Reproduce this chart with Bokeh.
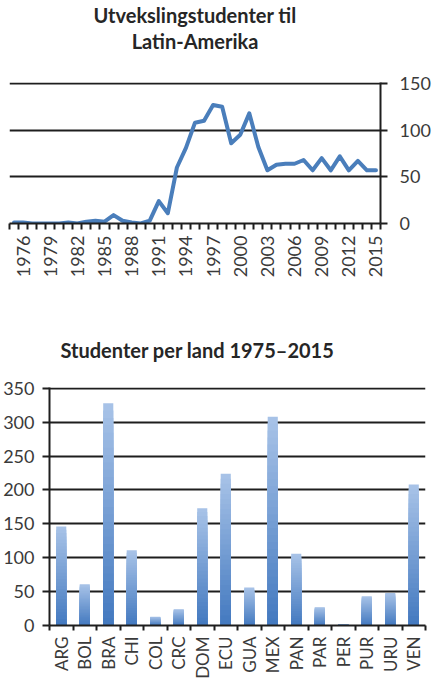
import numpy as np
from bokeh.plotting import figure
from bokeh.models import Range1d, FixedTicker, Title
from bokeh.layouts import column
from bokeh.embed import file_html
from bokeh.resources import INLINE

# ---- data: line chart ----
years = list(range(1975, 2016))
students = [1, 1, 0, 0, 0, 0, 1, 0, 2, 3, 2, 9, 3, 1, 0, 3, 24, 11, 60, 81,
            108, 110, 127, 125, 86, 95, 118, 82, 57, 63, 64, 64, 68, 57, 70, 57,
            72, 57, 67, 57, 57]
year_labels = list(range(1976, 2016, 3))
line_yticks = [0, 50, 100, 150]
title_top = ["Utvekslingstudenter til", "Latin-Amerika"]

# ---- data: bar chart ----
countries = ["ARG", "BOL", "BRA", "CHI", "COL", "CRC", "DOM", "ECU", "GUA",
             "MEX", "PAN", "PAR", "PER", "PUR", "URU", "VEN"]
per_country = [146, 61, 328, 111, 13, 24, 173, 224, 56, 308, 106, 27, 2, 43, 48, 208]
bar_yticks = [0, 50, 100, 150, 200, 250, 300, 350]
title_bottom = "Studenter per land 1975\u20132015"

TICK_FONT = "Lato"
TITLE_FONT = "Lato"
LABEL_COLOR = "#3a3a3a"
AXIS_COLOR = "#1e1e1e"
LINE_COLOR = "#4a7ebb"
TITLE_COLOR = "#262626"


def style_title(t, **kw):
    t.text_font = TITLE_FONT
    t.text_font_style = "bold"
    t.text_font_size = "20px"
    t.text_color = TITLE_COLOR
    for k, v in kw.items():
        setattr(t, k, v)
    return t


# ================= top chart =================
p1 = figure(width=433, height=300,
            x_range=Range1d(years[0] - 0.5, years[-1] + 0.5),
            y_range=Range1d(line_yticks[0], line_yticks[-1] * 1.007),
            y_axis_location="right",
            output_backend="svg", toolbar_location=None,
            min_border_left=9, min_border_right=53,
            min_border_top=0, min_border_bottom=77,
            title=title_top[0])
p1.frame_align = False
style_title(p1.title, align="center", standoff=0)
# spacer between the title block and the plot frame (added first = nearest the frame)
p1.add_layout(Title(text=" ", text_font_size="1px", standoff=27), "above")
p1.add_layout(style_title(Title(text=title_top[1]), align="center", standoff=0), "above")
p1.outline_line_color = None
p1.background_fill_color = None
p1.border_fill_color = None

p1.line(years, students, line_width=4, line_color=LINE_COLOR,
        line_join="round", line_cap="round")

p1.xgrid.visible = False
p1.ygrid.ticker = FixedTicker(ticks=line_yticks)
p1.ygrid.grid_line_color = AXIS_COLOR
p1.ygrid.grid_line_width = 2

ya = p1.yaxis[0]
ya.ticker = FixedTicker(ticks=line_yticks)
ya.axis_line_color = AXIS_COLOR
ya.axis_line_width = 2
ya.major_tick_line_color = AXIS_COLOR
ya.major_tick_line_width = 2
ya.major_tick_in = 0
ya.major_tick_out = 7
ya.minor_tick_line_color = None
ya.major_label_text_font = TICK_FONT
ya.major_label_text_font_size = "18px"
ya.major_label_text_color = LABEL_COLOR
ya.major_label_standoff = 12

xa = p1.xaxis[0]
xa.ticker = FixedTicker(ticks=year_labels,
                        minor_ticks=[y - 0.5 for y in years] + [years[-1] + 0.5])
xa.axis_line_color = AXIS_COLOR
xa.axis_line_width = 2
xa.major_tick_line_color = None
xa.minor_tick_line_color = AXIS_COLOR
xa.minor_tick_line_width = 2
xa.minor_tick_in = 0
xa.minor_tick_out = 6
xa.major_label_orientation = np.pi / 2
xa.major_label_text_font = TICK_FONT
xa.major_label_text_font_size = "18px"
xa.major_label_text_color = LABEL_COLOR
xa.major_label_standoff = 6

# ================= bottom chart =================
positions = list(range(1, len(countries) + 1))

p2 = figure(width=433, height=381,
            x_range=Range1d(0.5, len(countries) + 0.5),
            y_range=Range1d(bar_yticks[0], bar_yticks[-1] * 1.003),
            output_backend="svg", toolbar_location=None,
            min_border_left=49, min_border_right=8,
            min_border_top=87, min_border_bottom=55,
            title=title_bottom)
p2.frame_align = False
style_title(p2.title, align="left", offset=11, standoff=52)
p2.outline_line_color = None
p2.background_fill_color = None
p2.border_fill_color = None

# gradient bars: light at top, darker toward the base
light = np.array([0xA7, 0xC2, 0xE7], dtype=float)
dark = np.array([0x44, 0x7A, 0xC0], dtype=float)
N = 30
vals = np.array(per_country, dtype=float)
for k in range(N):
    frac = (N - k) / N
    t = k / (N - 1)
    c = light + (dark - light) * t
    col = "#%02x%02x%02x" % tuple(int(round(v)) for v in c)
    p2.vbar(x=positions, top=vals * frac, bottom=0, width=0.43,
            fill_color=col, line_color=None)

p2.xgrid.visible = False
p2.ygrid.ticker = FixedTicker(ticks=bar_yticks)
p2.ygrid.grid_line_color = AXIS_COLOR
p2.ygrid.grid_line_width = 2

la = p2.yaxis[0]
la.ticker = FixedTicker(ticks=bar_yticks)
la.axis_line_color = AXIS_COLOR
la.axis_line_width = 2
la.major_tick_line_color = AXIS_COLOR
la.major_tick_line_width = 2
la.major_tick_in = 0
la.major_tick_out = 7
la.minor_tick_line_color = None
la.major_label_text_font = TICK_FONT
la.major_label_text_font_size = "18px"
la.major_label_text_color = LABEL_COLOR
la.major_label_standoff = 8

ba = p2.xaxis[0]
ba.ticker = FixedTicker(ticks=positions,
                        minor_ticks=[x - 0.5 for x in positions] + [positions[-1] + 0.5])
ba.major_label_overrides = {x: c for x, c in zip(positions, countries)}
ba.axis_line_color = AXIS_COLOR
ba.axis_line_width = 2
ba.major_tick_line_color = None
ba.minor_tick_line_color = AXIS_COLOR
ba.minor_tick_line_width = 2
ba.minor_tick_in = 0
ba.minor_tick_out = 5
ba.major_label_orientation = np.pi / 2
ba.major_label_text_font = TICK_FONT
ba.major_label_text_font_size = "17px"
ba.major_label_text_color = LABEL_COLOR
ba.major_label_standoff = 5

layout = column(p1, p2, spacing=0)
open("out.html", "w").write(file_html(layout, INLINE))
